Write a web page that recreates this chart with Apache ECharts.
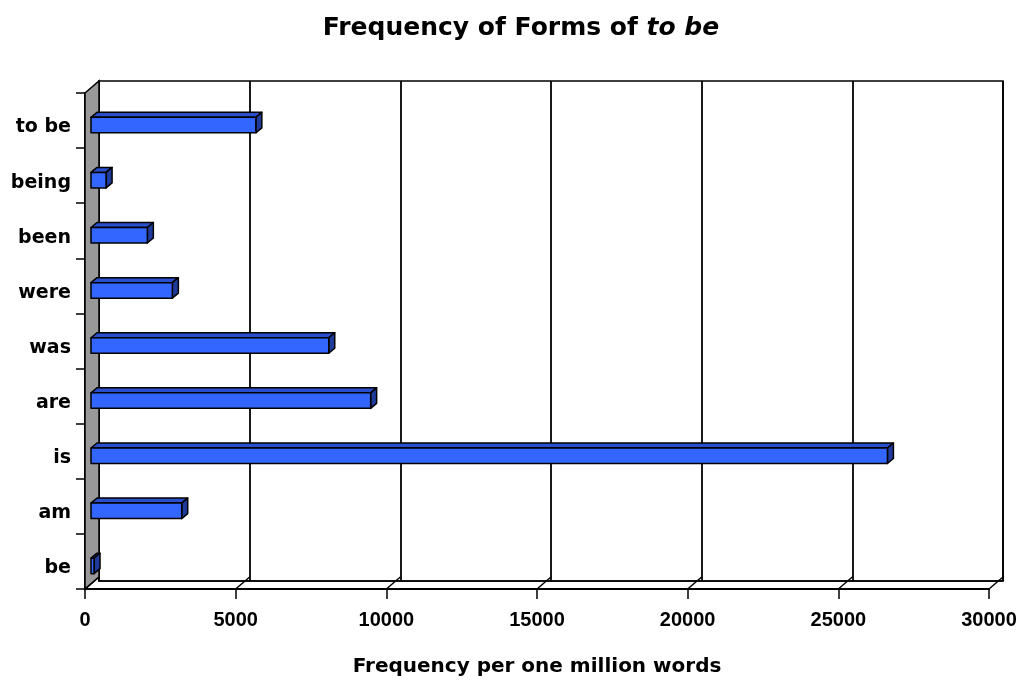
<!DOCTYPE html>
<html>
<head>
<meta charset="utf-8">
<title>Frequency of Forms of to be</title>
<script src="https://cdn.jsdelivr.net/npm/echarts@6/dist/echarts.min.js"></script>
<style>
  html, body { margin: 0; padding: 0; background: #ffffff; }
  #chart { width: 1023px; height: 682px; }
</style>
</head>
<body>
<div id="chart"></div>
<script>
// Forms of the verb, listed bottom to top
const categories = ['be', 'am', 'is', 'are', 'was', 'were', 'been', 'being', 'to be'];
// Frequency per one million words
const frequencies = [100, 3010, 26430, 9280, 7890, 2700, 1870, 500, 5470];
// Value-axis ticks
const xTicks = [0, 5000, 10000, 15000, 20000, 25000, 30000];

const TEXT_FONT = '"DejaVu Sans", "Liberation Sans", Arial, sans-serif';
const NUM_FONT = '"Liberation Sans", Arial, sans-serif';

// Perspective offset between the front plane and the back wall
const DEPTH_X = 14, DEPTH_Y = -12;
// Bar box geometry
const BAR_SHIFT_X = 6, BAR_SHIFT_Y = 4.5, BAR_H = 15.5, BAR_DX = 6, BAR_DY = -5;

const chart = echarts.init(document.getElementById('chart'), null, { renderer: 'canvas' });

function renderWall(params, api) {
  const cs = params.coordSys;
  const x = cs.x, top = cs.y, bot = cs.y + cs.height;
  return {
    type: 'polygon',
    shape: { points: [[x, top], [x + DEPTH_X, top + DEPTH_Y], [x + DEPTH_X, bot + DEPTH_Y], [x, bot]] },
    style: { fill: '#999999', stroke: '#000000', lineWidth: 1.5 }
  };
}

function renderFloorLine(params, api) {
  const cs = params.coordSys;
  const x = api.coord([api.value(0), 0])[0];
  const y = cs.y + cs.height;
  return {
    type: 'line',
    shape: { x1: x, y1: y, x2: x + DEPTH_X, y2: y + DEPTH_Y },
    style: { stroke: '#000000', lineWidth: 1.5 }
  };
}

function renderBar(params, api) {
  const v = api.value(0), c = api.value(1);
  const s = api.coord([0, c]);
  const e = api.coord([v, c]);
  const x0 = s[0] + BAR_SHIFT_X, x1 = e[0] + BAR_SHIFT_X;
  const yc = s[1] + BAR_SHIFT_Y;
  const top = yc - BAR_H / 2, bot = yc + BAR_H / 2;
  const edge = { stroke: '#000000', lineWidth: 1.5, lineJoin: 'round' };
  return {
    type: 'group',
    children: [
      {
        type: 'polygon',
        shape: { points: [[x0, top], [x0 + BAR_DX, top + BAR_DY], [x1 + BAR_DX, top + BAR_DY], [x1, top]] },
        style: Object.assign({ fill: '#2a4fcc' }, edge)
      },
      {
        type: 'polygon',
        shape: { points: [[x1, top], [x1 + BAR_DX, top + BAR_DY], [x1 + BAR_DX, bot + BAR_DY], [x1, bot]] },
        style: Object.assign({ fill: '#1f3b9c' }, edge)
      },
      {
        type: 'rect',
        shape: { x: x0, y: top, width: x1 - x0, height: BAR_H },
        style: Object.assign({ fill: '#3366ff' }, edge)
      }
    ]
  };
}

const option = {
  animation: false,
  backgroundColor: '#ffffff',
  title: {
    text: 'Frequency of Forms of {i|to be}',
    left: 516,
    top: 11,
    textAlign: 'center',
    textStyle: {
      fontFamily: TEXT_FONT,
      fontSize: 25,
      fontWeight: 'bold',
      color: '#000000',
      rich: {
        i: { fontFamily: TEXT_FONT, fontSize: 25, fontWeight: 'bold', fontStyle: 'italic', color: '#000000' }
      }
    }
  },
  grid: [
    // front plane
    { left: 85, top: 93, width: 904, height: 500, containLabel: false },
    // back wall
    { left: 85 + DEPTH_X, top: 93 + DEPTH_Y, width: 904, height: 500, show: true,
      borderColor: '#000000', borderWidth: 1.5, backgroundColor: 'transparent' }
  ],
  xAxis: [
    {
      gridIndex: 0, type: 'value', min: 0, max: 30000, interval: 5000,
      axisLine: { show: true, lineStyle: { color: '#000000', width: 2 } },
      axisTick: { show: true, length: 10, lineStyle: { color: '#000000', width: 1.5 } },
      axisLabel: {
        margin: 21, fontFamily: NUM_FONT, fontSize: 20, fontWeight: 'bold', color: '#000000',
        formatter: function (v) { return String(v); }
      },
      splitLine: { show: false },
      name: 'Frequency per one million words',
      nameLocation: 'middle',
      nameGap: 68,
      nameTextStyle: { fontFamily: TEXT_FONT, fontSize: 20, fontWeight: 'bold', color: '#000000' }
    },
    {
      gridIndex: 1, type: 'value', min: 0, max: 30000, interval: 5000,
      axisLine: { show: true, lineStyle: { color: '#000000', width: 1.5 } },
      axisTick: { show: false },
      axisLabel: { show: false },
      splitLine: { show: true, lineStyle: { color: '#000000', width: 1.8 } }
    }
  ],
  yAxis: [
    {
      gridIndex: 0, type: 'category', data: categories,
      axisLine: { show: true, lineStyle: { color: '#000000', width: 2 } },
      axisTick: { show: true, length: 9, lineStyle: { color: '#000000', width: 1.5 } },
      axisLabel: {
        margin: 14,
        formatter: function (v) { return '{c|' + v + '}'; },
        rich: {
          c: { padding: [14, 0, 0, 0], fontFamily: TEXT_FONT, fontSize: 19, fontWeight: 'bold', color: '#000000' }
        }
      },
      splitLine: { show: false }
    },
    {
      gridIndex: 1, type: 'category', data: categories,
      axisLine: { show: true, lineStyle: { color: '#000000', width: 1.5 } },
      axisTick: { show: false },
      axisLabel: { show: false },
      splitLine: { show: false }
    }
  ],
  series: [
    {
      type: 'custom', name: 'wall', xAxisIndex: 0, yAxisIndex: 0, z: 1,
      renderItem: renderWall, data: [[0, 0]], silent: true
    },
    {
      type: 'custom', name: 'floor', xAxisIndex: 0, yAxisIndex: 0, z: 1,
      renderItem: renderFloorLine, data: xTicks.map(v => [v, 0]), silent: true
    },
    {
      type: 'custom', name: 'Frequency', xAxisIndex: 0, yAxisIndex: 0, z: 5,
      renderItem: renderBar,
      encode: { x: 0, y: 1 },
      data: frequencies.map((v, i) => [v, i])
    }
  ]
};

chart.setOption(option);
</script>
</body>
</html>
